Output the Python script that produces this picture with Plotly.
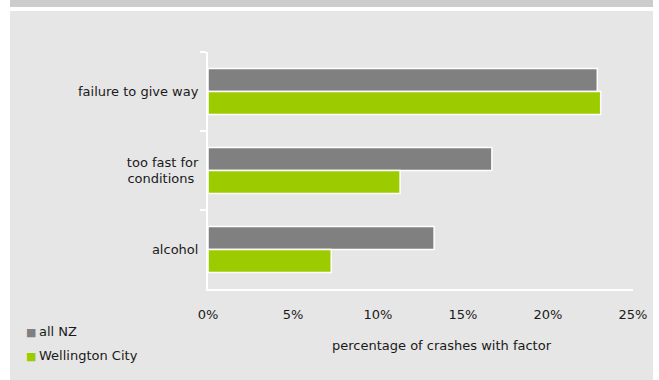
import plotly.graph_objects as go

categories = ["failure to give way", "too fast for<br>conditions\u00a0", "alcohol"]
series_names = ["all NZ", "Wellington City"]
all_nz = [22.9, 16.7, 13.3]
wellington = [23.1, 11.3, 7.25]
x_ticks = [0, 5, 10, 15, 20, 25]
x_tick_labels = ["0%", "5%", "10%", "15%", "20%", "25%"]
colors = ["#808080", "#9ccc00"]

W, H = 659, 380
fig = go.Figure()
for name, vals, col in zip(series_names, [all_nz, wellington], colors):
    fig.add_trace(go.Bar(
        y=categories, x=vals, name=name, orientation="h",
        marker=dict(color=col, line=dict(color="white", width=1.5)),
        showlegend=False,
    ))
for i, (name, col) in enumerate(zip(series_names, colors)):
    fig.add_trace(go.Scatter(
        x=[None], y=[None], mode="markers", legendgroup=f"g{i}",
        name=f'<span style="color:{col};font-size:11px">\u25a0</span>\u2009{name}',
        marker=dict(size=0.1, color="rgba(0,0,0,0)"),
    ))

def px(x):
    return x / W
def py(y):
    return 1 - y / H

fig.update_layout(
    width=W, height=H,
    margin=dict(l=0, r=0, t=0, b=0, autoexpand=False),
    paper_bgcolor="white",
    plot_bgcolor="rgba(0,0,0,0)",
    barmode="group", bargap=0.42, bargroupgap=0.0,
    font=dict(family="DejaVu Sans", size=13, color="#1a1a1a"),
    xaxis=dict(
        domain=[px(208), px(633)], range=[0, 25], tickvals=x_ticks, ticktext=x_tick_labels,
        showgrid=False, zeroline=False, showline=True, linecolor="white", linewidth=2,
        ticks="", ticklabelstandoff=12, automargin=False,
    ),
    yaxis=dict(
        domain=[py(289), py(52)], categoryorder="array", categoryarray=categories,
        autorange="reversed", showgrid=False, zeroline=False,
        showline=True, linecolor="white", linewidth=2,
        ticks="outside", tickson="boundaries", ticklen=6, tickcolor="white", tickwidth=2,
        ticklabelstandoff=5, automargin=False,
    ),
    legend=dict(
        x=px(26 - 40), y=py(316), xanchor="left", yanchor="top",
        bgcolor="rgba(0,0,0,0)", font=dict(family="DejaVu Sans", size=13, color="#1a1a1a"),
        tracegroupgap=4,
    ),
    shapes=[
        dict(type="rect", xref="paper", yref="paper", x0=px(10), x1=px(653), y0=py(0), y1=py(7),
             fillcolor="#cccccc", line=dict(width=0), layer="below"),
        dict(type="rect", xref="paper", yref="paper", x0=px(10), x1=px(653), y0=py(11), y1=py(380),
             fillcolor="#e6e6e6", line=dict(width=0), layer="below"),
    ],
    annotations=[
        dict(text="percentage of crashes with factor", xref="paper", yref="paper",
             x=px(441.5), y=py(345), xanchor="center", yanchor="middle", showarrow=False,
             font=dict(family="DejaVu Sans", size=13, color="#1a1a1a")),
    ],
)

fig.write_html("out.html")
